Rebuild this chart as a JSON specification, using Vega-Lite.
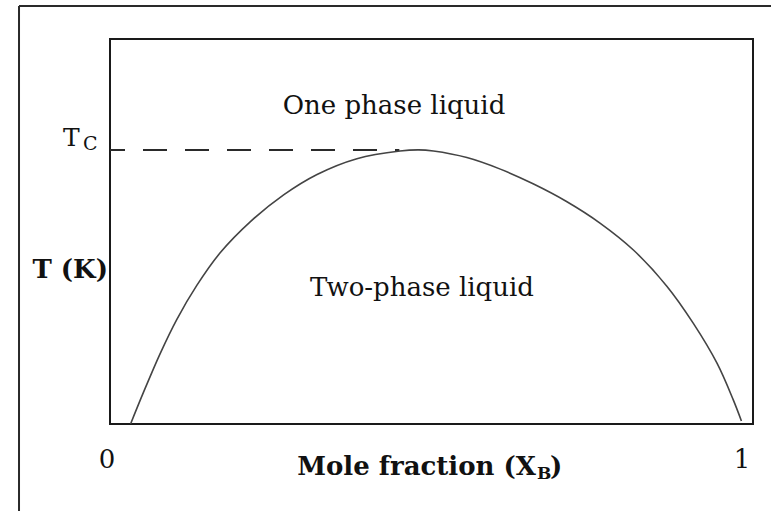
{
  "$schema": "https://vega.github.io/schema/vega-lite/v6.json",
  "width": 643,
  "height": 385,
  "autosize": {"type": "none"},
  "padding": {"left": 110, "top": 39, "right": 18, "bottom": 87},
  "background": "white",
  "config": {
    "view": {"stroke": "#1a1a1a", "strokeWidth": 2},
    "text": {"font": "DejaVu Serif", "color": "#111", "baseline": "alphabetic"}
  },
  "datasets": {
    "frame": [
      {"x": -0.1415, "x2": -0.1415, "y": -0.3, "y2": 1.0857},
      {"x": -0.1415, "x2": 1.1, "y": 1.0857, "y2": 1.0857}
    ],
    "tc": [{"x": 0, "x2": 0.45, "y": 0.7117}],
    "curve": [
      {"x": 0.032, "y": 0.0},
      {"x": 0.052, "y": 0.082},
      {"x": 0.078, "y": 0.183},
      {"x": 0.104, "y": 0.272},
      {"x": 0.135, "y": 0.360},
      {"x": 0.171, "y": 0.444},
      {"x": 0.218, "y": 0.525},
      {"x": 0.270, "y": 0.595},
      {"x": 0.322, "y": 0.648},
      {"x": 0.384, "y": 0.689},
      {"x": 0.451, "y": 0.709},
      {"x": 0.480, "y": 0.712},
      {"x": 0.503, "y": 0.709},
      {"x": 0.555, "y": 0.692},
      {"x": 0.607, "y": 0.662},
      {"x": 0.658, "y": 0.624},
      {"x": 0.710, "y": 0.578},
      {"x": 0.762, "y": 0.522},
      {"x": 0.814, "y": 0.452},
      {"x": 0.866, "y": 0.358},
      {"x": 0.907, "y": 0.262},
      {"x": 0.944, "y": 0.158},
      {"x": 0.969, "y": 0.064},
      {"x": 0.982, "y": 0.008}
    ],
    "labels": [
      {"x": 0.4417, "y": 0.8052, "label": "One phase liquid"},
      {"x": 0.4852, "y": 0.3325, "label": "Two-phase liquid"},
      {"x": -0.0047, "y": -0.1143, "label": "0"},
      {"x": 0.9829, "y": -0.1143, "label": "1"}
    ],
    "tMain": [{"x": -0.0731, "y": 0.7221, "label": "T"}],
    "tSub": [{"x": -0.042, "y": 0.7117, "label": "C"}],
    "boldRight": [
      {"x": 0.6625, "y": -0.1325, "label": "Mole fraction (X"},
      {"x": -0.0031, "y": 0.3792, "label": "T (K)"}
    ],
    "boldSub": [{"x": 0.6641, "y": -0.1429, "label": "B"}],
    "boldLeft": [{"x": 0.6843, "y": -0.1325, "label": ")"}]
  },
  "encoding": {
    "x": {"field": "x", "type": "quantitative", "scale": {"domain": [0, 1], "nice": false, "zero": false}, "axis": null},
    "y": {"field": "y", "type": "quantitative", "scale": {"domain": [0, 1], "nice": false, "zero": false}, "axis": null}
  },
  "layer": [
    {
      "data": {"name": "frame"},
      "mark": {"type": "rule", "color": "#2a2a2a", "strokeWidth": 2},
      "encoding": {"x2": {"field": "x2"}, "y2": {"field": "y2"}}
    },
    {
      "data": {"name": "tc"},
      "mark": {"type": "rule", "color": "#2a2a2a", "strokeWidth": 2, "strokeDash": [24, 18], "strokeDashOffset": 9},
      "encoding": {"x2": {"field": "x2"}}
    },
    {
      "data": {"name": "curve"},
      "mark": {"type": "line", "color": "#444", "strokeWidth": 1.6, "interpolate": "catmull-rom"},
      "encoding": {"order": {"field": "x", "type": "quantitative"}}
    },
    {
      "data": {"name": "labels"},
      "mark": {"type": "text", "fontSize": 26, "align": "center"},
      "encoding": {"text": {"field": "label"}}
    },
    {
      "data": {"name": "tMain"},
      "mark": {"type": "text", "fontSize": 25, "align": "left"},
      "encoding": {"text": {"field": "label"}}
    },
    {
      "data": {"name": "tSub"},
      "mark": {"type": "text", "fontSize": 19, "align": "left"},
      "encoding": {"text": {"field": "label"}}
    },
    {
      "data": {"name": "boldRight"},
      "mark": {"type": "text", "fontSize": 26, "fontWeight": "bold", "align": "right"},
      "encoding": {"text": {"field": "label"}}
    },
    {
      "data": {"name": "boldSub"},
      "mark": {"type": "text", "fontSize": 17, "fontWeight": "bold", "align": "left"},
      "encoding": {"text": {"field": "label"}}
    },
    {
      "data": {"name": "boldLeft"},
      "mark": {"type": "text", "fontSize": 26, "fontWeight": "bold", "align": "left"},
      "encoding": {"text": {"field": "label"}}
    }
  ]
}
